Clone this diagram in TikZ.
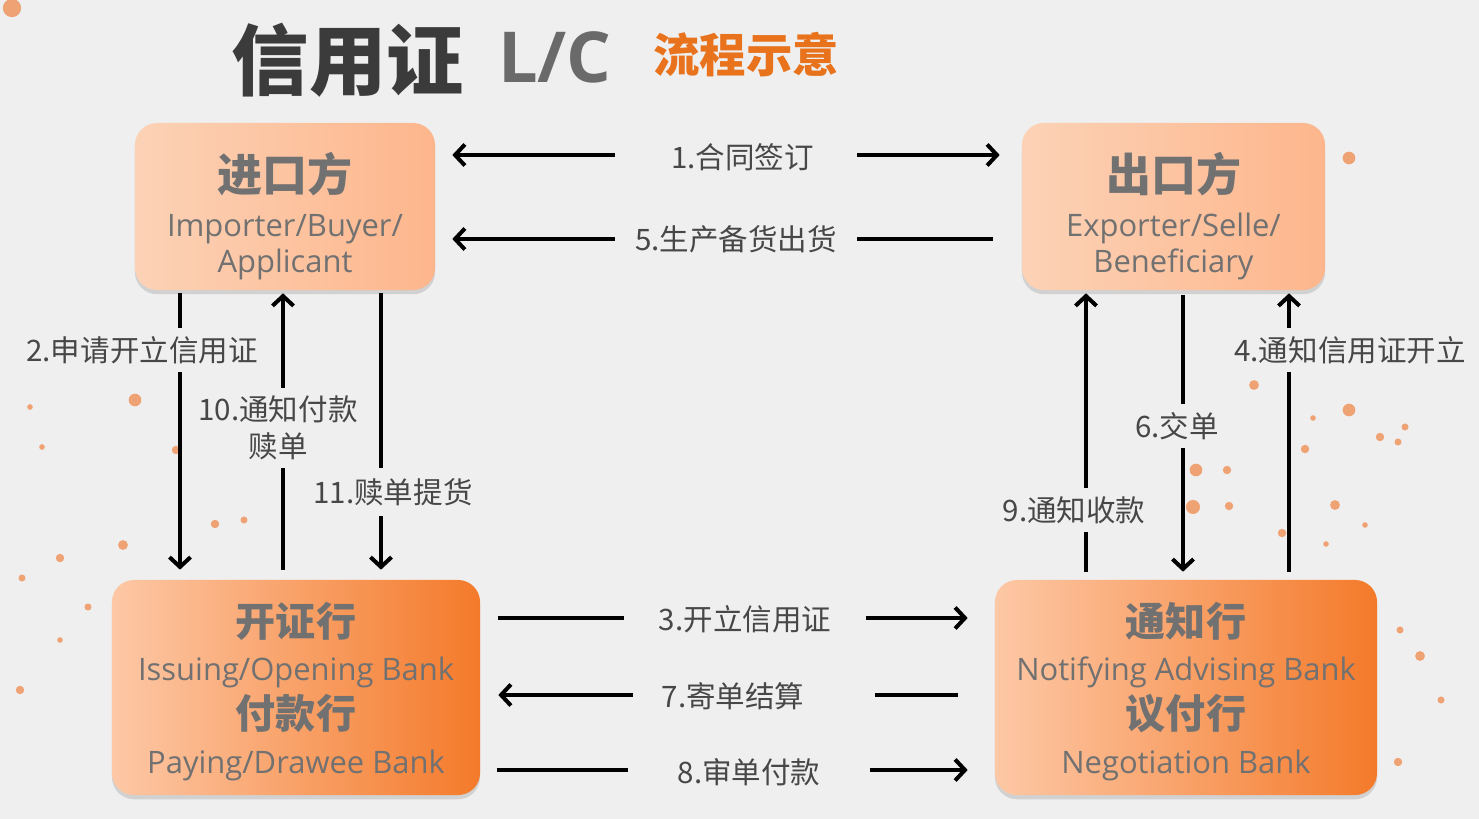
\documentclass[tikz,border=0pt]{standalone}
\usepackage{fontspec}
\setmainfont{Noto Sans CJK SC}
\newfontfamily\en{Open Sans}
\usetikzlibrary{arrows.meta, positioning, shadows}
\definecolor{bggray}{HTML}{EFEFEF}
\definecolor{txtgray}{HTML}{474747}
\definecolor{boxgray}{HTML}{717171}
\definecolor{titlegray}{HTML}{3B3B3B}
\definecolor{lcgray}{HTML}{6A6A6A}
\definecolor{lcorange}{HTML}{E8731C}
\definecolor{peachl}{HTML}{FCD2B6}
\definecolor{peachr}{HTML}{FDB68C}
\definecolor{bankl}{HTML}{FDC8A6}
\definecolor{bankr}{HTML}{F47A2A}
\definecolor{dotorange}{HTML}{F08A4B}
\newcommand{\partyhead}[1]{{\rmfamily\bfseries\fontsize{32}{32}\selectfont\rule{0pt}{41pt}#1}}
\newcommand{\bankhead}[1]{{\rmfamily\bfseries\fontsize{28.5}{28.5}\selectfont #1}}

\begin{document}
\begin{tikzpicture}[x=0.025cm, y=-0.025cm,
  >={Straight Barb[length=7pt,width=15pt]},
  partybox/.style={rounded corners=0.55cm, left color=peachl, right color=peachr,
    minimum width=7.5cm, minimum height=4.175cm, align=center, text=boxgray,
    font=\en\fontsize{22}{25}\selectfont,
    drop shadow={shadow xshift=0pt, shadow yshift=-3pt, opacity=0.12, fill=black}},
  bankbox/.style={partybox, left color=bankl, right color=bankr,
    minimum width=9.2cm, minimum height=5.375cm},
  flow/.style={line width=0.1cm, ->},
  lbl/.style={fill=bggray, text=txtgray, font=\fontsize{21}{26}\selectfont, inner sep=0pt},
  hlbl/.style={lbl, minimum width=6.05cm, minimum height=0.9cm},
  vlbl/.style={lbl, minimum height=1.1cm}
]
\fill[bggray] (0,0) rectangle (1479,819);
\useasboundingbox (0,0) rectangle (1479,819);

% background dots
\foreach \x/\y/\r in {12/8/6.5, 1349/158/4.5, 1254/385/3.5, 1196/470/4.5, 1227/470/3, 1193/507/5,
  1229/506/3, 1282/533/3, 1313/418/2, 1349/410/4.5, 1380/437/3, 1405/427/2.5, 1398/442/2.5,
  1305/449/3, 1335/505/3.5, 1365/525/2, 1326/544/2, 1420/656/3.5, 1400/630/2.5, 1441/700/2.5,
  1398/762/3, 135/400/4.5, 123/545/3.5, 60/558/3, 30/407/2, 42/447/2, 88/607/2.5, 22/578/2.5,
  60/640/2, 20/690/3, 215/524/3, 244/520/2.5, 176/450/3}
  \fill[dotorange, opacity=0.75] (\x,\y) circle[radius=\r pt];

% title
\node[font=\bfseries\fontsize{55}{55}\selectfont, text=titlegray] (title) at (348,60) {信用证};
\node[font=\en\bfseries\fontsize{50}{50}\selectfont, text=lcgray] (lc) at (555,57) {L/C};
\node[font=\bfseries\fontsize{33}{33}\selectfont, text=lcorange] (sub) at (746,55) {流程示意};

% parties and banks
\node[partybox] (imp) at (285,206.5) {\partyhead{进口方}\\[7.5pt]Importer/Buyer/\\Applicant};
\node[partybox, minimum width=7.575cm] (exp) at (1173.5,206.5) {\partyhead{出口方}\\[7.5pt]Exporter/Selle/\\Beneficiary};
\node[bankbox] (iss) at (296,687.5) {\bankhead{\rule{0pt}{30pt}开证行}\\[6.2pt]Issuing/Opening Bank\\[3.6pt]\bankhead{付款行}\\[6.7pt]Paying/Drawee Bank};
\node[bankbox, minimum width=9.55cm] (ntf) at (1186,687.5) {\bankhead{\rule{0pt}{30pt}通知行}\\[6.2pt]Notifying Advising Bank\\[3.6pt]\bankhead{议付行}\\[6.7pt]Negotiation Bank};

% horizontal flows
\draw[flow, <->, shorten <=0.425cm, shorten >=0.55cm] (imp.east |- 0,155) -- (exp.west |- 0,155);
\draw[flow, shorten <=0.725cm, shorten >=0.425cm] (exp.west |- 0,239) -- (imp.east |- 0,239);
\draw[flow, shorten <=0.45cm, shorten >=0.675cm] (iss.east |- 0,618) -- (ntf.west |- 0,618);
\draw[flow, shorten <=0.925cm, shorten >=0.45cm] (ntf.west |- 0,695) -- (iss.east |- 0,695);
\draw[flow, shorten <=0.425cm, shorten >=0.675cm] (iss.east |- 0,770) -- (ntf.west |- 0,770);

% vertical flows
\draw[flow, shorten <=0.075cm, shorten >=0.25cm] (imp.south -| 180,0) -- (iss.north -| 180,0);
\draw[flow, shorten <=0.25cm, shorten >=0.075cm] (iss.north -| 283,0) -- (imp.south -| 283,0);
\draw[flow, shorten <=0.075cm, shorten >=0.25cm] (imp.south -| 381,0) -- (iss.north -| 381,0);
\draw[flow, shorten <=0.2cm, shorten >=0.075cm] (ntf.north -| 1086,0) -- (exp.south -| 1086,0);
\draw[flow, shorten <=0.125cm, shorten >=0.2cm] (exp.south -| 1183,0) -- (ntf.north -| 1183,0);
\draw[flow, shorten <=0.2cm, shorten >=0.075cm] (ntf.north -| 1289,0) -- (exp.south -| 1289,0);

% labels
\node[hlbl] (l1) at (736,157) {\hspace{0.325cm}1.合同签订};
\node[hlbl] (l5) at (736,239) {5.生产备货出货};
\node[hlbl] (l3) at (745,619) {3.开立信用证};
\node[hlbl] (l7) at (754,696) {7.寄单结算\rule{1.05cm}{0pt}};
\node[hlbl] (l8) at (749,772) {8.审单付款};
\node[vlbl] (l2) at (142,350) {2.申请开立信用证};
\node[vlbl, align=center, minimum height=2cm] (l10) at (278,428) {10.通知付款\\赎单};
\node[vlbl, minimum height=1.2cm] (l11) at (393,492) {11.赎单提货};
\node[vlbl] (l9) at (1074,510) {9.通知收款};
\node[vlbl] (l6) at (1177,426) {6.交单};
\node[vlbl] (l4) at (1350,350) {4.通知信用证开立};
\end{tikzpicture}
\end{document}
